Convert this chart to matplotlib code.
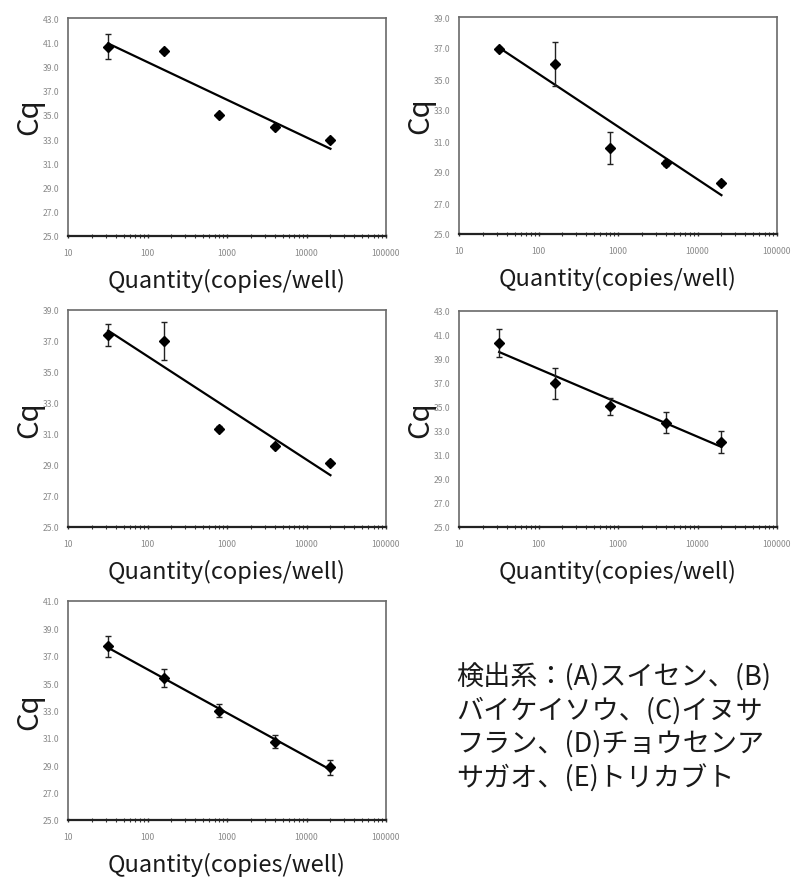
import numpy as np
import matplotlib.pyplot as plt
from matplotlib.ticker import LogLocator, FixedLocator, NullFormatter

plt.rcParams['font.family'] = ['Noto Sans CJK JP', 'DejaVu Sans']

# ---------- data ----------
quantity = [32, 160, 800, 4000, 20000]

cq_a = [40.64, 40.25, 34.98, 33.96, 32.92]
err_a = [1.05, 0.15, 0.15, 0.15, 0.15]

cq_b = [36.95, 35.98, 30.55, 29.56, 28.27]
err_b = [0.12, 1.40, 1.05, 0.20, 0.12]

cq_c = [37.37, 37.00, 31.35, 30.20, 29.11]
err_c = [0.72, 1.24, 0.15, 0.12, 0.12]

cq_d = [40.33, 36.97, 35.06, 33.70, 32.08]
err_d = [1.20, 1.30, 0.70, 0.90, 0.90]

cq_e = [37.68, 35.38, 32.98, 30.73, 28.87]
err_e = [0.75, 0.63, 0.48, 0.50, 0.55]

ylims = {"A": (25, 43), "B": (25, 39), "C": (25, 39), "D": (25, 43), "E": (25, 41)}

note_lines = ["検出系：(A)スイセン、(B)",
              "バイケイソウ、(C)イヌサ",
              "フラン、(D)チョウセンア",
              "サガオ、(E)トリカブト"]

# ---------- layout (pixel boxes -> figure fractions) ----------
W, H = 796, 878
boxes = {
    "A": (68, 19, 318, 218),
    "B": (459, 18, 318, 217),
    "C": (68, 311, 318, 217),
    "D": (459, 312, 318, 216),
    "E": (68, 602, 318, 219),
}
panels = {"A": (cq_a, err_a), "B": (cq_b, err_b), "C": (cq_c, err_c),
          "D": (cq_d, err_d), "E": (cq_e, err_e)}

fig = plt.figure(figsize=(W / 100, H / 100), dpi=100)

for key, (cq, err) in panels.items():
    x0, y0, w, h = boxes[key]
    ax = fig.add_axes([x0 / W, 1 - (y0 + h) / H, w / W, h / H])

    ax.errorbar(quantity, cq, yerr=err, fmt="D", color="black", ms=5.5,
                ecolor="#222222", elinewidth=1.0, capsize=2.2, capthick=1.0, zorder=3)

    # linear trendline on log10(quantity), as in the original spreadsheet
    lx = np.log10(quantity)
    slope, icpt = np.polyfit(lx, cq, 1)
    ax.plot([quantity[0], quantity[-1]],
            [slope * lx[0] + icpt, slope * lx[-1] + icpt],
            color="black", lw=1.6, zorder=2)

    ax.set_xscale("log")
    ax.set_xlim(10, 100000)
    lo, hi = ylims[key]
    ax.set_ylim(lo, hi)
    yt = np.arange(lo, hi + 0.1, 2)
    ax.yaxis.set_major_locator(FixedLocator(yt))
    ax.set_yticklabels([f"{v:.1f}" for v in yt])

    ax.xaxis.set_major_locator(FixedLocator([10, 100, 1000, 10000, 100000]))
    ax.set_xticklabels(["10", "100", "1000", "10000", "100000"])
    ax.xaxis.set_minor_locator(LogLocator(base=10, subs=np.arange(2, 10), numticks=20))
    ax.xaxis.set_minor_formatter(NullFormatter())

    ax.tick_params(axis="y", length=0, pad=6, labelsize=6.2, labelcolor="#8a8a8a")
    ax.tick_params(axis="x", which="major", direction="inout", length=3, width=1,
                   pad=7, labelsize=6.2, labelcolor="#8a8a8a", color="#333333")
    ax.tick_params(axis="x", which="minor", direction="inout", length=2.5, width=0.8,
                   color="#333333")

    for s in ["top", "right", "left"]:
        ax.spines[s].set_color("#6a6a6a")
        ax.spines[s].set_linewidth(1.2)
    ax.spines["bottom"].set_color("#222222")
    ax.spines["bottom"].set_linewidth(1.6)

    ax.set_ylabel("Cq", fontsize=21, labelpad=-1, color="#1a1a1a")
    if key in ("A", "B"):
        ax.yaxis.label.set_y(0.55)
    ax.set_xlabel("Quantity(copies/well)", fontsize=17, labelpad=8, color="#1a1a1a")

fig.text(456 / W, 1 - 662 / H, "\n".join(note_lines), fontsize=19.5,
         va="top", ha="left", linespacing=1.3, color="#1a1a1a")

plt.savefig("out.png", dpi=100)
